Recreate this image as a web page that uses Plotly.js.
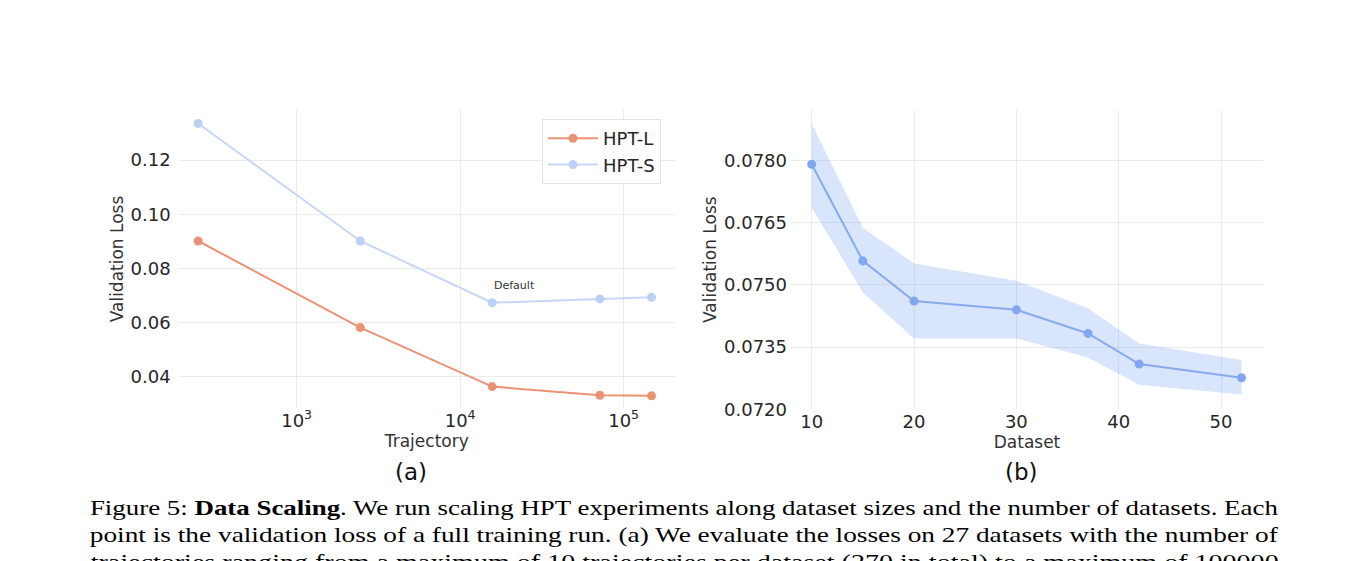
<!DOCTYPE html>
<html>
<head>
<meta charset="utf-8">
<script src="https://cdn.plot.ly/plotly-3.0.1.min.js"></script>
<style>html,body{margin:0;padding:0;background:#fff;}#chart{width:1368px;height:561px;}</style>
</head>
<body>
<div id="chart"></div>
<script>
// Panel (a): validation loss vs number of trajectories (log x)
const trajectories = [250, 2450, 15700, 71500, 148000];
const hptL = [0.0901, 0.0581, 0.0363, 0.0331, 0.0329];
const hptS = [0.1335, 0.0901, 0.0673, 0.0687, 0.0693];
const seriesNames = ["HPT-L", "HPT-S"];
const aXTickVals = [1000, 10000, 100000];
const aXTickText = ["10<sup>3</sup>", "10<sup>4</sup>", "10<sup>5</sup>"];
const aYTickVals = [0.04, 0.06, 0.08, 0.10, 0.12];

// Panel (b): validation loss vs number of datasets
const datasets = [10, 15, 20, 30, 37, 42, 52];
const lossMean = [0.07791, 0.07558, 0.07461, 0.07440, 0.07383, 0.07309, 0.07276];
const lossUpper = [0.07889, 0.07638, 0.07552, 0.07510, 0.07444, 0.07359, 0.07319];
const lossLower = [0.07687, 0.07482, 0.07371, 0.07371, 0.07325, 0.07259, 0.07236];
const bXTickVals = [10, 20, 30, 40, 50];
const bYTickVals = [0.0720, 0.0735, 0.0750, 0.0765, 0.0780];

const captionLines = [
  "Figure 5: <b>Data Scaling</b>. We run scaling HPT experiments along dataset sizes and the number of datasets. Each",
  "point is the validation loss of a full training run. (a) We evaluate the losses on 27 datasets with the number of",
  "trajectories ranging from a maximum of 10 trajectories per dataset (270 in total) to a maximum of 100000"
];

const W = 1368, H = 561;
const px = v => v / W;
const py = v => 1 - v / H;

const tickFont = {family: "DejaVu Sans", size: 18, color: "#262626"};
const titleFont = {family: "DejaVu Sans", size: 17, color: "#333333"};
const gridColor = "#EBEBEB";

const traces = [
  {x: trajectories, y: hptL, name: seriesNames[0], type: "scatter", mode: "lines+markers",
   line: {color: "#EC9274", width: 2}, marker: {color: "#EC9274", size: 9}, xaxis: "x", yaxis: "y"},
  {x: trajectories, y: hptS, name: seriesNames[1], type: "scatter", mode: "lines+markers",
   line: {color: "#C6D7F7", width: 2}, marker: {color: "#BCD0F6", size: 9}, xaxis: "x", yaxis: "y"},
  {x: datasets.concat(datasets.slice().reverse()), y: lossUpper.concat(lossLower.slice().reverse()),
   type: "scatter", mode: "lines", fill: "toself", fillcolor: "rgba(110,155,240,0.26)",
   line: {width: 0, color: "rgba(0,0,0,0)"}, hoverinfo: "skip", showlegend: false, xaxis: "x2", yaxis: "y2"},
  {x: datasets, y: lossMean, type: "scatter", mode: "lines+markers", showlegend: false,
   line: {color: "#86A9F0", width: 2}, marker: {color: "#82A6F0", size: 9}, xaxis: "x2", yaxis: "y2"}
];

const annotations = [
  {xref: "x", yref: "y", x: Math.log10(15700), y: 0.0738, text: "Default", showarrow: false,
   xanchor: "left", yanchor: "middle", font: {family: "DejaVu Sans", size: 11, color: "#333333"}},
  {xref: "paper", yref: "paper", x: px(411), y: py(472), text: "(a)", showarrow: false,
   xanchor: "center", yanchor: "middle", font: {family: "DejaVu Sans", size: 23, color: "#111111"}},
  {xref: "paper", yref: "paper", x: px(1021), y: py(472), text: "(b)", showarrow: false,
   xanchor: "center", yanchor: "middle", font: {family: "DejaVu Sans", size: 23, color: "#111111"}}
];
const captionY = [508, 535, 562];
captionLines.forEach((t, i) => {
  annotations.push({xref: "paper", yref: "paper", x: px(684), y: py(captionY[i]), text: t, showarrow: false,
    xanchor: "center", yanchor: "middle", align: "center",
    font: {family: "Liberation Serif", size: 21, color: "#000000"}});
});

const layout = {
  width: W, height: H,
  margin: {l: 0, r: 0, t: 0, b: 0},
  paper_bgcolor: "#ffffff", plot_bgcolor: "#ffffff",
  showlegend: true,
  legend: {x: px(542), y: py(119), xanchor: "left", yanchor: "top",
    bgcolor: "#ffffff", bordercolor: "#E3E3E3", borderwidth: 1,
    font: {family: "DejaVu Sans", size: 18, color: "#262626"}, itemwidth: 50},
  xaxis: {domain: [px(178.6), px(675)], type: "log", range: [2.278, 5.314],
    tickvals: aXTickVals, ticktext: aXTickText, tickfont: tickFont,
    showgrid: true, gridcolor: gridColor, zeroline: false, showline: false, ticks: "",
    title: {text: "Trajectory", font: titleFont, standoff: 2}, anchor: "y"},
  yaxis: {domain: [py(408), py(110)], range: [0.0284, 0.1385],
    tickvals: aYTickVals, tickformat: ".2f", tickfont: tickFont, ticklabelstandoff: 7,
    showgrid: true, gridcolor: gridColor, zeroline: false, showline: false, ticks: "",
    title: {text: "Validation Loss", font: titleFont, standoff: 2}, anchor: "x"},
  xaxis2: {domain: [px(791), px(1263)], range: [7.98, 54.1],
    tickvals: bXTickVals, tickfont: tickFont,
    showgrid: true, gridcolor: gridColor, zeroline: false, showline: false, ticks: "",
    title: {text: "Dataset", font: titleFont, standoff: 2}, anchor: "y2"},
  yaxis2: {domain: [py(409.3), py(110)], range: [0.0720, 0.07922],
    tickvals: bYTickVals, tickformat: ".4f", tickfont: tickFont, ticklabelstandoff: 3,
    showgrid: true, gridcolor: gridColor, zeroline: false, showline: false, ticks: "",
    title: {text: "Validation Loss", font: titleFont, standoff: 3}, anchor: "x2"},
  annotations: annotations
};

Plotly.newPlot("chart", traces, layout, {displayModeBar: false, staticPlot: true}).then(gd => {
  // justify caption lines to the full text width, as in the typeset figure
  const texts = gd.querySelectorAll("g.annotation text.annotation-text");
  texts.forEach(t => {
    const s = t.textContent || "";
    if (s.startsWith("Figure 5") || s.startsWith("point is") || s.startsWith("trajectories ranging")) {
      t.setAttribute("textLength", "1188");
      t.setAttribute("lengthAdjust", "spacingAndGlyphs");
    }
  });
});
</script>
</body>
</html>
